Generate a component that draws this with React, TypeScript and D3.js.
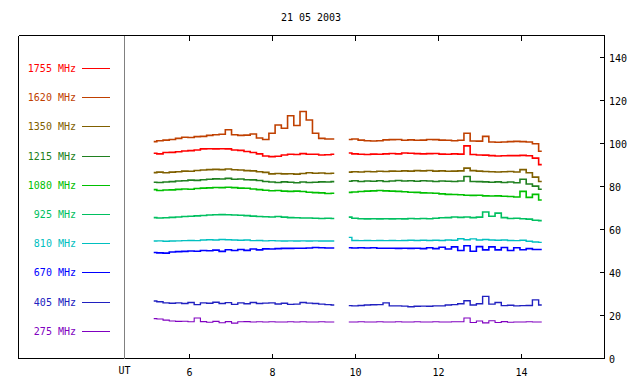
import React from "react";
import * as d3 from "d3";

const TITLE = "21 05 2003";
const X_LABEL = "UT";
const FREQS = ["1755 MHz", "1620 MHz", "1350 MHz", "1215 MHz", "1080 MHz", "925 MHz", "810 MHz", "670 MHz", "405 MHz", "275 MHz"];
const COLORS = ["#ff0000", "#c04000", "#806000", "#208020", "#00c000", "#00c060", "#00c0c0", "#0000ff", "#2020c0", "#8000c0"];
const WIDTHS = [1.6, 1.6, 1.6, 1.6, 1.6, 1.6, 1.4, 1.6, 1.4, 1.1];
const Y_TICKS = [0, 20, 40, 60, 80, 100, 120, 140];
const X_TICKS = [6, 8, 10, 12, 14];

const T1 = [5.15, 5.3, 5.45, 5.6, 5.75, 5.9, 6.05, 6.2, 6.35, 6.5, 6.65, 6.8, 6.95, 7.1, 7.25, 7.4, 7.55, 7.7, 7.85, 8.0, 8.15, 8.3, 8.45, 8.6, 8.75, 8.9, 9.05, 9.2, 9.35, 9.5];
const T2 = [9.85, 10.0, 10.15, 10.3, 10.45, 10.6, 10.75, 10.9, 11.05, 11.2, 11.35, 11.5, 11.65, 11.8, 11.95, 12.1, 12.25, 12.4, 12.55, 12.7, 12.85, 13.0, 13.15, 13.3, 13.45, 13.6, 13.75, 13.9, 14.05, 14.2, 14.35, 14.5];

const F1755_A = [95.1, 94.8, 95.4, 95.5, 95.8, 96.1, 96.3, 96.6, 97.1, 97.2, 97.1, 97.2, 97.1, 96.6, 96.4, 95.9, 95.4, 94.8, 93.8, 93.5, 93.7, 94.3, 94.6, 94.5, 94.9, 94.6, 94.6, 94.3, 94.4, 94.6];
const F1755_B = [95.2, 94.8, 94.6, 94.5, 94.7, 94.6, 94.8, 95.0, 94.8, 95.2, 95.1, 94.9, 94.8, 94.9, 95.0, 94.7, 94.6, 94.8, 94.7, 98.5, 94.5, 94.3, 94.2, 94.0, 93.8, 93.9, 94.0, 94.0, 94.1, 93.9, 92.8, 89.8];
const F1620_A = [100.5, 100.9, 101.2, 101.5, 102.0, 102.5, 102.4, 102.8, 102.9, 103.4, 103.7, 103.9, 106.0, 103.7, 103.4, 103.5, 104.0, 102.2, 101.5, 104.4, 108.2, 106.7, 112.5, 108.0, 114.5, 110.5, 104.4, 102.0, 101.7, 101.7];
const F1620_B = [101.5, 101.7, 101.2, 100.9, 100.8, 100.9, 101.3, 101.4, 101.5, 101.1, 101.3, 101.1, 101.2, 101.5, 101.4, 101.2, 101.1, 100.9, 101.1, 104.4, 100.8, 100.7, 102.9, 100.3, 100.2, 100.3, 100.5, 100.6, 100.5, 100.3, 99.5, 96.0];
const F1350_A = [86.1, 86.3, 86.0, 86.3, 86.5, 86.8, 86.7, 87.1, 87.3, 87.5, 87.6, 87.5, 87.8, 87.4, 87.3, 87.0, 86.9, 86.5, 86.2, 85.5, 85.7, 85.5, 85.6, 85.4, 85.7, 86.0, 85.8, 85.9, 85.7, 85.8];
const F1350_B = [86.3, 86.5, 86.4, 86.6, 86.5, 86.7, 86.6, 86.8, 86.7, 86.9, 86.8, 87.0, 86.9, 87.1, 86.8, 86.9, 86.7, 86.8, 86.9, 88.2, 87.0, 86.8, 86.6, 86.5, 86.4, 86.5, 86.6, 86.4, 87.5, 86.0, 84.0, 82.0];
const F1215_A = [81.6, 81.5, 81.7, 81.9, 82.2, 82.3, 82.6, 82.5, 82.8, 83.0, 83.2, 83.1, 83.4, 83.0, 83.1, 82.8, 82.7, 82.4, 82.0, 81.7, 81.5, 81.8, 81.6, 81.4, 81.7, 81.5, 81.6, 81.8, 81.7, 81.9];
const F1215_B = [82.1, 82.3, 82.0, 82.2, 82.1, 82.3, 82.0, 82.2, 82.4, 82.2, 82.3, 82.1, 82.3, 82.2, 82.0, 82.2, 82.1, 82.0, 82.2, 84.3, 82.0, 81.9, 81.8, 81.6, 81.8, 81.5, 81.7, 81.4, 83.0, 80.8, 79.8, 78.4];
const F1080_A = [78.2, 77.8, 78.0, 78.1, 78.3, 78.5, 78.4, 78.7, 78.9, 79.0, 79.2, 79.1, 79.3, 79.1, 78.9, 78.8, 78.5, 78.2, 77.9, 77.7, 77.8, 77.5, 77.4, 77.5, 77.3, 77.0, 76.8, 76.7, 76.4, 76.5];
const F1080_B = [76.9, 77.1, 77.3, 77.5, 77.6, 77.8, 77.6, 77.5, 77.4, 77.2, 77.0, 76.9, 76.7, 76.6, 76.5, 76.2, 76.0, 75.9, 75.8, 75.6, 75.5, 75.6, 75.3, 75.2, 75.3, 75.1, 75.0, 74.8, 77.4, 74.6, 76.0, 73.4];
const F925_A = [65.2, 65.0, 65.1, 65.3, 65.5, 65.7, 65.8, 66.0, 66.2, 66.4, 66.5, 66.6, 66.5, 66.4, 66.3, 66.1, 65.9, 65.7, 65.6, 65.5, 65.7, 65.4, 65.2, 65.1, 65.0, 65.0, 64.9, 64.8, 64.9, 64.8];
const F925_B = [65.4, 64.9, 64.7, 64.6, 64.7, 64.6, 64.7, 64.6, 64.7, 64.6, 64.8, 64.7, 64.8, 64.7, 64.9, 65.1, 65.2, 65.5, 65.3, 65.5, 65.2, 65.4, 67.8, 65.8, 67.3, 65.2, 64.8, 64.9, 64.7, 64.5, 64.0, 63.8];
const F810_A = [54.3, 54.4, 54.2, 54.3, 54.4, 54.5, 54.6, 54.5, 54.8, 54.9, 54.8, 55.0, 54.9, 54.8, 54.7, 54.8, 54.5, 54.6, 54.4, 54.5, 54.4, 54.3, 54.4, 54.3, 54.4, 54.3, 54.4, 54.3, 54.3, 54.3];
const F810_B = [56.0, 54.6, 54.5, 54.6, 54.5, 54.6, 54.5, 54.6, 54.5, 54.6, 54.7, 54.6, 54.7, 54.6, 54.7, 54.6, 54.8, 54.7, 55.4, 54.9, 55.3, 54.8, 55.0, 54.8, 54.7, 54.8, 54.6, 54.5, 54.7, 54.2, 53.9, 53.7];
const F670_A = [49.0, 48.8, 48.7, 49.2, 49.4, 49.5, 49.7, 49.6, 49.9, 49.8, 50.1, 49.5, 50.3, 49.9, 50.4, 50.0, 50.6, 50.2, 50.7, 50.6, 50.8, 50.9, 50.9, 51.0, 51.0, 51.1, 51.3, 51.2, 51.1, 51.1];
const F670_B = [51.2, 51.1, 51.2, 51.1, 51.2, 51.0, 51.0, 51.0, 50.9, 51.0, 50.9, 51.0, 50.8, 51.2, 50.8, 51.4, 50.6, 51.6, 49.9, 52.1, 49.6, 51.7, 50.2, 51.6, 50.2, 51.3, 49.9, 51.2, 50.3, 50.8, 50.4, 50.4];
const F405_A = [26.5, 26.1, 25.6, 25.4, 25.6, 25.3, 25.8, 24.8, 25.6, 25.4, 25.9, 25.3, 25.7, 24.9, 25.6, 25.2, 25.8, 25.3, 25.5, 25.6, 25.1, 25.4, 24.9, 25.0, 25.8, 25.5, 25.3, 25.0, 24.8, 24.6];
const F405_B = [24.3, 24.2, 24.4, 24.6, 24.7, 24.8, 25.6, 24.2, 24.2, 24.1, 23.8, 24.0, 24.1, 24.0, 24.2, 24.2, 24.6, 24.8, 25.2, 26.6, 24.6, 25.2, 28.6, 25.0, 25.8, 24.3, 24.5, 24.2, 24.3, 24.4, 27.0, 24.6];
const F275_A = [18.3, 18.1, 17.6, 17.2, 17.0, 17.1, 16.8, 18.6, 16.9, 16.6, 17.0, 16.4, 16.9, 16.2, 16.8, 16.9, 16.7, 16.8, 16.7, 16.8, 16.7, 16.7, 16.8, 16.7, 16.8, 16.7, 16.7, 16.8, 16.7, 16.7];
const F275_B = [16.7, 16.7, 16.8, 16.7, 16.7, 16.8, 16.7, 16.7, 16.8, 16.7, 16.7, 16.8, 16.7, 16.7, 16.8, 16.7, 16.7, 16.8, 16.8, 18.6, 16.5, 17.2, 16.3, 17.3, 16.5, 16.9, 16.6, 16.7, 16.7, 16.8, 16.7, 16.7];

const SERIES_A = [F1755_A, F1620_A, F1350_A, F1215_A, F1080_A, F925_A, F810_A, F670_A, F405_A, F275_A];
const SERIES_B = [F1755_B, F1620_B, F1350_B, F1215_B, F1080_B, F925_B, F810_B, F670_B, F405_B, F275_B];

const W = 640;
const H = 384;
const FRAME_L = 18.5;
const FRAME_T = 35.5;
const FRAME_R = 604.5;
const FRAME_B = 358.5;
const UT_X = 124.5;
const FONT = "'DejaVu Sans Mono', monospace";

export default function App() {
  const x = d3.scaleLinear().domain([6, 16]).range([189, 604]);
  const y = d3.scaleLinear().domain([0, 150]).range([358, 35]);
  const line = d3
    .line<[number, number]>()
    .x((d) => x(d[0]))
    .y((d) => y(d[1]))
    .curve(d3.curveStep);

  const legendY = (i: number) => 68 + i * 29.2;

  return (
    <div style={{ position: "fixed", left: 0, top: 0, width: W, height: H, background: "#fff" }}>
      <svg width={W} height={H} style={{ display: "block" }} fontFamily={FONT} fontSize={10}>
        <rect x={0} y={0} width={W} height={H} fill="#fff" />
        <text x={311} y={18} textAnchor="middle" dominantBaseline="middle" fill="#000">
          {TITLE}
        </text>
        <g shapeRendering="crispEdges">
          <line x1={FRAME_L} y1={FRAME_T} x2={FRAME_R} y2={FRAME_T} stroke="#000" />
          <line x1={FRAME_L} y1={FRAME_B} x2={FRAME_R} y2={FRAME_B} stroke="#000" />
          <line x1={FRAME_L} y1={FRAME_T} x2={FRAME_L} y2={FRAME_B} stroke="#000" />
          <line x1={FRAME_R} y1={FRAME_T} x2={FRAME_R} y2={FRAME_B} stroke="#000" />
          <line x1={UT_X} y1={FRAME_T} x2={UT_X} y2={FRAME_B} stroke="#808080" />
        </g>
        {X_TICKS.map((t) => {
          const px = Math.round(x(t)) + 0.5;
          return (
            <g key={"xt" + t}>
              <line x1={px} y1={FRAME_T} x2={px} y2={FRAME_T + 5} stroke="#000" shapeRendering="crispEdges" />
              <line x1={px} y1={FRAME_B} x2={px} y2={FRAME_B - 5} stroke="#000" shapeRendering="crispEdges" />
              <text x={px} y={373} textAnchor="middle" dominantBaseline="middle" fill="#000">
                {t}
              </text>
            </g>
          );
        })}
        <text x={UT_X} y={371} textAnchor="middle" dominantBaseline="middle" fill="#000">
          {X_LABEL}
        </text>
        {Y_TICKS.map((v) => {
          const py = Math.round(y(v)) + 0.5;
          return (
            <g key={"yt" + v}>
              <line x1={FRAME_R - 5} y1={py} x2={FRAME_R} y2={py} stroke="#000" shapeRendering="crispEdges" />
              <text x={609} y={py + 1} dominantBaseline="middle" fill="#000">
                {v}
              </text>
            </g>
          );
        })}
        {FREQS.map((f, i) => {
          const ly = Math.round(legendY(i)) + 0.5;
          return (
            <g key={"lg" + f}>
              <text x={76} y={ly} textAnchor="end" dominantBaseline="middle" fill={COLORS[i]}>
                {f}
              </text>
              <line x1={82} y1={ly} x2={110} y2={ly} stroke={COLORS[i]} shapeRendering="crispEdges" />
            </g>
          );
        })}
        <g fill="none">
          {SERIES_A.map((vals, i) => (
            <path
              key={"a" + i}
              d={line(T1.map((t, k) => [t, vals[k]] as [number, number])) || ""}
              stroke={COLORS[i]}
              strokeWidth={WIDTHS[i]}
            />
          ))}
          {SERIES_B.map((vals, i) => (
            <path
              key={"b" + i}
              d={line(T2.map((t, k) => [t, vals[k]] as [number, number])) || ""}
              stroke={COLORS[i]}
              strokeWidth={WIDTHS[i]}
            />
          ))}
        </g>
      </svg>
    </div>
  );
}
